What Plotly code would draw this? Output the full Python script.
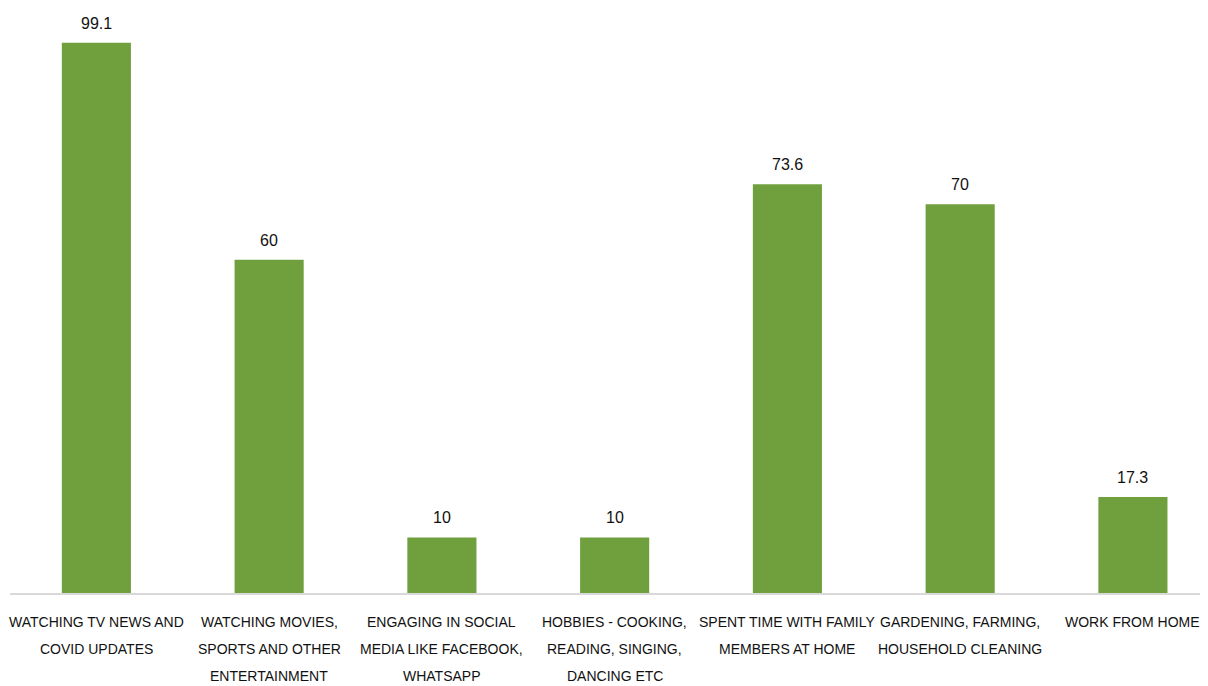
import plotly.graph_objects as go

category_lines = [
    ["WATCHING TV NEWS AND", "COVID UPDATES"],
    ["WATCHING MOVIES,", "SPORTS AND OTHER", "ENTERTAINMENT"],
    ["ENGAGING IN SOCIAL", "MEDIA LIKE FACEBOOK,", "WHATSAPP"],
    ["HOBBIES - COOKING,", "READING, SINGING,", "DANCING ETC"],
    ["SPENT TIME WITH FAMILY", "MEMBERS AT HOME"],
    ["GARDENING, FARMING,", "HOUSEHOLD CLEANING"],
    ["WORK FROM HOME"],
]
categories = [" ".join(l) for l in category_lines]
values = [99.1, 60, 10, 10, 73.6, 70, 17.3]
value_labels = ["99.1", "60", "10", "10", "73.6", "70", "17.3"]

FONT = "Liberation Sans, Arial, sans-serif"
GREEN = "#70A03E"
TEXT = "#111111"

fig = go.Figure()
fig.add_trace(go.Bar(
    x=categories, y=values,
    marker=dict(color=GREEN, line=dict(width=0)),
    hoverinfo="skip",
))
for c, v, t in zip(categories, values, value_labels):
    fig.add_annotation(x=c, y=v, text=t, showarrow=False, yanchor="bottom",
                       yshift=9, font=dict(family=FONT, size=16, color=TEXT))

# multi-line category labels under the axis
for c, lines in zip(categories, category_lines):
    for i, line in enumerate(lines):
        fig.add_annotation(x=c, y=0, text=line, showarrow=False,
                           yanchor="middle", xanchor="center",
                           yshift=-(29 + 27 * i),
                           font=dict(family=FONT, size=14, color=TEXT))

fig.update_layout(
    width=1208, height=686,
    margin=dict(l=2, r=10, t=2, b=101),
    paper_bgcolor="white", plot_bgcolor="white",
    bargap=0.6, showlegend=False,
    font=dict(family=FONT, size=14, color=TEXT),
)
fig.update_xaxes(
    type="category", range=[-0.5, 6.423], automargin=False,
    showline=True, linecolor="#D9D9D9", linewidth=2,
    showgrid=False, ticks="", showticklabels=False,
)
fig.update_yaxes(range=[0, 105], visible=False, showgrid=False, automargin=False)

fig.write_html("out.html")
